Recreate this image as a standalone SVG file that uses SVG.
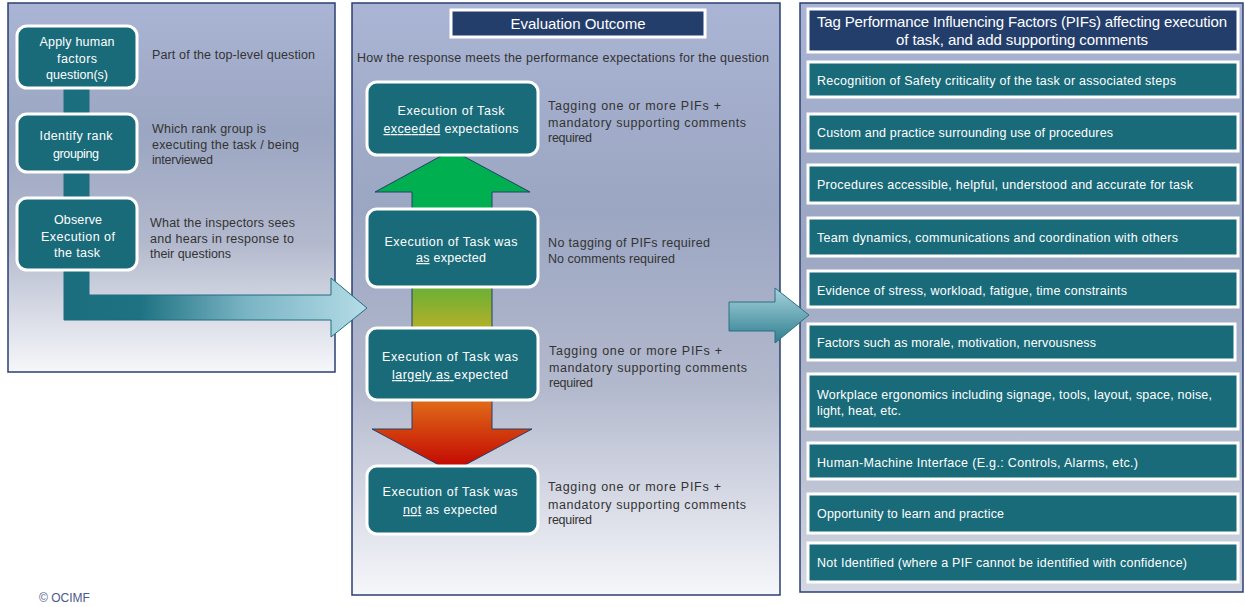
<svg xmlns="http://www.w3.org/2000/svg" width="1245" height="607" viewBox="0 0 1245 607">
<defs>
<linearGradient id="panelBg" x1="0" y1="0" x2="0" y2="1">
<stop offset="0" stop-color="#aab4d4"/>
<stop offset="0.35" stop-color="#9ba6c2"/>
<stop offset="0.65" stop-color="#b3b9cd"/>
<stop offset="1" stop-color="#f6f7fa"/>
</linearGradient>
<linearGradient id="rightBg" x1="0" y1="0" x2="0" y2="1">
<stop offset="0" stop-color="#aab4d4"/>
<stop offset="0.4" stop-color="#9ba6c2"/>
<stop offset="0.75" stop-color="#b6bccf"/>
<stop offset="1" stop-color="#d4d8e2"/>
</linearGradient>
<linearGradient id="leftArrow" gradientUnits="userSpaceOnUse" x1="64" y1="0" x2="367" y2="0">
<stop offset="0" stop-color="#1a6e7e"/>
<stop offset="0.25" stop-color="#1e7282"/>
<stop offset="0.6" stop-color="#7ab4c4"/>
<stop offset="1" stop-color="#b4dce6"/>
</linearGradient>
<linearGradient id="rightArrow" x1="0" y1="0" x2="0" y2="1">
<stop offset="0" stop-color="#a8d2de"/>
<stop offset="1" stop-color="#2e7f8f"/>
</linearGradient>
<linearGradient id="evalArrow" gradientUnits="userSpaceOnUse" x1="0" y1="150" x2="0" y2="472">
<stop offset="0" stop-color="#00b050"/>
<stop offset="0.2" stop-color="#00b050"/>
<stop offset="0.46" stop-color="#7cb032"/>
<stop offset="0.56" stop-color="#b8b028"/>
<stop offset="0.78" stop-color="#e06a18"/>
<stop offset="1" stop-color="#c00000"/>
</linearGradient>
</defs>
<style>
.panel{stroke:#2b3f70;stroke-width:1.5}
.box{fill:#1a6b7a;stroke:#ffffff;stroke-width:3}
.title{fill:#243e6c;stroke:#ffffff;stroke-width:3}
.bt{font-family:"Liberation Sans",Arial,sans-serif;font-size:12.5px;fill:#ffffff}
.btc{font-family:"Liberation Sans",Arial,sans-serif;font-size:12.5px;fill:#ffffff;text-anchor:middle}
.tt{font-family:"Liberation Sans",Arial,sans-serif;font-size:15px;fill:#ffffff;text-anchor:middle}
.dt{font-family:"Liberation Sans",Arial,sans-serif;font-size:12.5px;fill:#333333}
.u{text-decoration:underline}
</style>
<rect width="1245" height="607" fill="#ffffff"/>

<g id="panels">
<rect class="panel" x="8" y="3" width="327" height="369" fill="url(#panelBg)"/>
<rect class="panel" x="352" y="3" width="428" height="592" fill="url(#panelBg)"/>
<rect class="panel" x="800" y="3" width="443" height="589" fill="url(#rightBg)"/>
</g>

<g id="connectors">
<path d="M64,88 L89,88 L89,295 L331,295 L331,278 L367,308 L331,337 L331,320 L64,320 Z" fill="url(#leftArrow)" stroke="#1f6f7e" stroke-width="1"/>
<path d="M729,302 L775,302 L775,288 L809,315 L775,343 L775,331 L729,331 Z" fill="url(#rightArrow)" stroke="#2a7080" stroke-width="1"/>
<path d="M452,150 L530,192 L492,192 L492,429 L532,429 L452,472 L372,429 L412,429 L412,192 L375,192 Z" fill="url(#evalArrow)" stroke="#243e6c" stroke-width="1"/>
</g>

<g id="left-nodes">
<g id="n-apply">
<rect class="box" x="17" y="26" width="120" height="62" rx="10"/>
<text class="btc" x="77" y="46" textLength="75" lengthAdjust="spacing">Apply human</text>
<text class="btc" x="77" y="63" textLength="40" lengthAdjust="spacing">factors</text>
<text class="btc" x="77" y="79" textLength="62" lengthAdjust="spacing">question(s)</text>
</g>
<g id="n-rank">
<rect class="box" x="17" y="114" width="120" height="58" rx="10"/>
<text class="btc" x="76" y="140" textLength="73" lengthAdjust="spacing">Identify rank</text>
<text class="btc" x="76" y="158" textLength="46" lengthAdjust="spacing">grouping</text>
</g>
<g id="n-observe">
<rect class="box" x="17" y="198" width="120" height="72" rx="10"/>
<text class="btc" x="78" y="224" textLength="48" lengthAdjust="spacing">Observe</text>
<text class="btc" x="78" y="241" textLength="74" lengthAdjust="spacing">Execution of</text>
<text class="btc" x="77" y="257" textLength="46" lengthAdjust="spacing">the task</text>
</g>
<g id="left-notes">
<text class="dt" x="152" y="59" textLength="163" lengthAdjust="spacing">Part of the top-level question</text>
<text class="dt" x="152" y="133" textLength="114" lengthAdjust="spacing">Which rank group is</text>
<text class="dt" x="152" y="149" textLength="147" lengthAdjust="spacing">executing the task / being</text>
<text class="dt" x="152" y="164" textLength="61" lengthAdjust="spacing">interviewed</text>
<text class="dt" x="150" y="227" textLength="145" lengthAdjust="spacing">What the inspectors sees</text>
<text class="dt" x="150" y="243" textLength="144" lengthAdjust="spacing">and hears in response to</text>
<text class="dt" x="150" y="258" textLength="81" lengthAdjust="spacing">their questions</text>
</g>
</g>

<g id="middle-nodes">
<g id="n-eval-title">
<rect class="title" x="451" y="10" width="254" height="27"/>
<text class="tt" x="578" y="29" textLength="135" lengthAdjust="spacing">Evaluation Outcome</text>
</g>
<text class="dt" x="357" y="62" textLength="412" lengthAdjust="spacing">How the response meets the performance expectations for the question</text>
<g id="n-exceeded">
<rect class="box" x="367" y="82" width="171" height="73" rx="10"/>
<text class="btc" x="451" y="115" textLength="107" lengthAdjust="spacing">Execution of Task</text>
<text class="btc" x="451" y="133" textLength="135" lengthAdjust="spacing"><tspan class="u">exceeded</tspan> expectations</text>
</g>
<g id="n-as">
<rect class="box" x="367" y="209" width="171" height="78" rx="10"/>
<text class="btc" x="451" y="246" textLength="133" lengthAdjust="spacing">Execution of Task was</text>
<text class="btc" x="451" y="262" textLength="70" lengthAdjust="spacing"><tspan class="u">as</tspan> expected</text>
</g>
<g id="n-largely">
<rect class="box" x="367" y="328" width="171" height="72" rx="10"/>
<text class="btc" x="450" y="361" textLength="136" lengthAdjust="spacing">Execution of Task was</text>
<text class="btc" x="450" y="379" textLength="116" lengthAdjust="spacing"><tspan class="u">largely as </tspan>expected</text>
</g>
<g id="n-not">
<rect class="box" x="367" y="466" width="171" height="68" rx="10"/>
<text class="btc" x="450" y="496" textLength="135" lengthAdjust="spacing">Execution of Task was</text>
<text class="btc" x="450" y="514" textLength="94" lengthAdjust="spacing"><tspan class="u">not</tspan> as expected</text>
</g>
<g id="middle-notes">
<text class="dt" x="548" y="110" textLength="173" lengthAdjust="spacing">Tagging one or more PIFs +</text>
<text class="dt" x="548" y="127" textLength="198" lengthAdjust="spacing">mandatory supporting comments</text>
<text class="dt" x="548" y="142" textLength="44" lengthAdjust="spacing">required</text>
<text class="dt" x="548" y="247" textLength="162" lengthAdjust="spacing">No tagging of PIFs required</text>
<text class="dt" x="548" y="263" textLength="127" lengthAdjust="spacing">No comments required</text>
<text class="dt" x="549" y="355" textLength="173" lengthAdjust="spacing">Tagging one or more PIFs +</text>
<text class="dt" x="549" y="372" textLength="198" lengthAdjust="spacing">mandatory supporting comments</text>
<text class="dt" x="549" y="387" textLength="44" lengthAdjust="spacing">required</text>
<text class="dt" x="548" y="491" textLength="173" lengthAdjust="spacing">Tagging one or more PIFs +</text>
<text class="dt" x="548" y="509" textLength="198" lengthAdjust="spacing">mandatory supporting comments</text>
<text class="dt" x="548" y="524" textLength="44" lengthAdjust="spacing">required</text>
</g>
</g>

<g id="right-nodes">
<g id="n-pif-title">
<rect class="title" x="808" y="9" width="430" height="43"/>
<text class="tt" x="1022" y="27" textLength="410" lengthAdjust="spacing">Tag Performance Influencing Factors (PIFs) affecting execution</text>
<text class="tt" x="1022" y="45" textLength="252" lengthAdjust="spacing">of task, and add supporting comments</text>
</g>
<g id="n-pif1"><rect class="box" x="808" y="62" width="430" height="35"/><text class="bt" x="817" y="85" textLength="359" lengthAdjust="spacing">Recognition of Safety criticality of the task or associated steps</text></g>
<g id="n-pif2"><rect class="box" x="808" y="114" width="430" height="37"/><text class="bt" x="817" y="137" textLength="296" lengthAdjust="spacing">Custom and practice surrounding use of procedures</text></g>
<g id="n-pif3"><rect class="box" x="808" y="165" width="430" height="38"/><text class="bt" x="817" y="189" textLength="376" lengthAdjust="spacing">Procedures accessible, helpful, understood and accurate for task</text></g>
<g id="n-pif4"><rect class="box" x="808" y="218" width="430" height="38"/><text class="bt" x="817" y="242" textLength="361" lengthAdjust="spacing">Team dynamics, communications and coordination with others</text></g>
<g id="n-pif5"><rect class="box" x="808" y="271" width="430" height="36"/><text class="bt" x="817" y="295" textLength="310" lengthAdjust="spacing">Evidence of stress, workload, fatigue, time constraints</text></g>
<g id="n-pif6"><rect class="box" x="808" y="324" width="427" height="36"/><text class="bt" x="817" y="347" textLength="279" lengthAdjust="spacing">Factors such as morale, motivation, nervousness</text></g>
<g id="n-pif7"><rect class="box" x="808" y="374" width="430" height="55"/><text class="bt" x="817" y="399" textLength="395" lengthAdjust="spacing">Workplace ergonomics including signage, tools, layout, space, noise,</text><text class="bt" x="817" y="415" textLength="84" lengthAdjust="spacing">light, heat, etc.</text></g>
<g id="n-pif8"><rect class="box" x="808" y="443" width="430" height="36"/><text class="bt" x="817" y="467" textLength="321" lengthAdjust="spacing">Human-Machine Interface (E.g.: Controls, Alarms, etc.)</text></g>
<g id="n-pif9"><rect class="box" x="808" y="494" width="430" height="39"/><text class="bt" x="817" y="518" textLength="187" lengthAdjust="spacing">Opportunity to learn and practice</text></g>
<g id="n-pif10"><rect class="box" x="808" y="543" width="430" height="39"/><text class="bt" x="817" y="567" textLength="370" lengthAdjust="spacing">Not Identified (where a PIF cannot be identified with confidence)</text></g>
</g>

<text x="39" y="602" font-family="Liberation Sans, Arial, sans-serif" font-size="12" fill="#4a5a8a">© OCIMF</text>
</svg>
